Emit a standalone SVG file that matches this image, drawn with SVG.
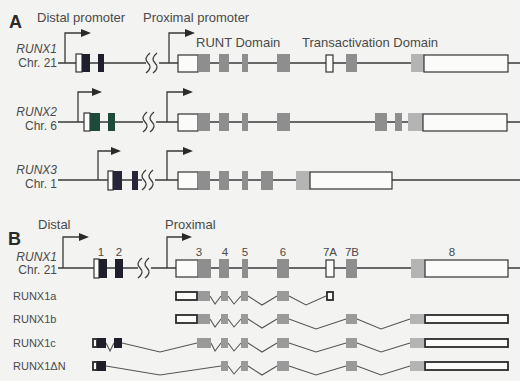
<svg xmlns="http://www.w3.org/2000/svg" width="520" height="381" viewBox="0 0 520 381">
<style>
.ln{stroke:#3a3a3a;stroke-width:1.3;fill:none}
.sp{stroke:#555;stroke-width:1.1;fill:none}
.w{fill:#fbfbfa;stroke:#333;stroke-width:1.2}
.wt{fill:#fbfbfa;stroke:#2a2a2a;stroke-width:1.8}
.g{fill:#8e8e8e}
.g2{fill:#9a9a9a}
.lg{fill:#b4b4b4}
.k{fill:#1f1f2b}
.gr{fill:#1d4a3b}
.nv{fill:#262638}
.t{font-family:"Liberation Sans",Arial,sans-serif;fill:#4a4a4a}
.h{font-size:13px}
.gn{font-size:12px;font-style:italic}
.ch{font-size:12px}
.pl{font-family:"Liberation Sans",Arial,sans-serif;font-weight:bold;font-size:18px;fill:#2a2a2a}
.tr{font-size:11px}
.ex{font-size:11.5px}
</style>
<defs>
<marker id="ah" viewBox="0 0 10 8" refX="1" refY="4" markerWidth="10" markerHeight="8" markerUnits="userSpaceOnUse" orient="auto">
<path d="M0,0 L10,4 L0,8 z" fill="#2a2a2a"/>
</marker>
<g id="brk">
<path d="M4,-10 C-1,-6 -1,-3 2,0 C5,3 5,6 0,10" class="ln"/>
<path d="M11,-10 C6,-6 6,-3 9,0 C12,3 12,6 7,10" class="ln"/>
</g>
</defs>
<rect width="520" height="381" fill="#f3f3f1"/>

<!-- Panel labels -->
<text class="pl" x="9" y="28">A</text>
<text class="pl" x="8" y="245">B</text>
<text class="t h" x="37" y="22">Distal promoter</text>
<text class="t h" x="143" y="22">Proximal promoter</text>
<text class="t h" x="196" y="47">RUNT Domain</text>
<text class="t h" x="302" y="47">Transactivation Domain</text>
<text class="t h" x="38" y="229">Distal</text>
<text class="t h" x="165" y="229">Proximal</text>

<!-- Connectors: gene lines, promoter arrows, splice lines -->
<g id="connectors">
<path class="ln" d="M58,63 H146 M159,63 H520"/>
<use href="#brk" x="146" y="63"/>
<path class="ln" d="M65,63 V33 H82" marker-end="url(#ah)"/>
<path class="ln" d="M169,63 V33 H186" marker-end="url(#ah)"/>

<path class="ln" d="M58,122 H143 M156,122 H520"/>
<use href="#brk" x="143" y="122"/>
<path class="ln" d="M78,122 V92 H93" marker-end="url(#ah)"/>
<path class="ln" d="M167,122 V92 H184" marker-end="url(#ah)"/>

<path class="ln" d="M58,180 H142 M155,180 H520"/>
<use href="#brk" x="142" y="180"/>
<path class="ln" d="M98,180 V151 H112" marker-end="url(#ah)"/>
<path class="ln" d="M167,180 V151 H184" marker-end="url(#ah)"/>

<path class="ln" d="M58,268 H138 M151,268 H520"/>
<use href="#brk" x="138" y="268"/>
<path class="ln" d="M63,268 V237 H80" marker-end="url(#ah)"/>
<path class="ln" d="M167,268 V237 H183" marker-end="url(#ah)"/>

<!-- splice lines -->
<path class="sp" d="M210,296 L215,304 L221,296 M228,296 L234,304 L241,296 M248,296 L262,305 L277,296 M289,296 L306,305 L326,296"/>
<path class="sp" d="M210,319 L215,327 L221,319 M228,319 L234,327 L241,319 M248,319 L262,328 L277,319 M289,319 L316,329 L346,319 M357,319 L381,329 L410,319"/>
<path class="sp" d="M106,343 L110,351 L114,343 M122,343 L160,352 L197,343 M211,343 L215,351 L221,343 M228,343 L234,351 L241,343 M248,343 L262,352 L277,343 M289,343 L316,352 L346,343 M357,343 L381,352 L410,343"/>
<path class="sp" d="M106,366 L160,375 L221,366 M228,366 L234,374 L241,366 M248,366 L262,375 L277,366 M289,366 L316,375 L346,366 M357,366 L381,375 L410,366"/>
</g>

<!-- Panel A -->
<g id="runx1-a">
<text class="t gn" x="57" y="53" text-anchor="end">RUNX1</text>
<text class="t ch" x="57" y="67" text-anchor="end">Chr. 21</text>
<rect class="w" x="76" y="54" width="6" height="18"/>
<rect class="k" x="82" y="54" width="8" height="18"/>
<rect class="k" x="98" y="54" width="6" height="18"/>
<rect class="w" x="178" y="55" width="20" height="17"/>
<rect class="g" x="198" y="54" width="12" height="18"/>
<rect class="g" x="219" y="54" width="10" height="18"/>
<rect class="g" x="242" y="54" width="6" height="18"/>
<rect class="g" x="277" y="54" width="13" height="18"/>
<rect class="w" x="326" y="55" width="7" height="17"/>
<rect class="g" x="346" y="54" width="11" height="18"/>
<rect class="lg" x="411" y="54" width="13" height="18"/>
<rect class="w" x="424" y="55" width="84" height="17"/>
</g>

<g id="runx2">
<text class="t gn" x="57" y="116" text-anchor="end">RUNX2</text>
<text class="t ch" x="57" y="130" text-anchor="end">Chr. 6</text>
<rect class="w" x="84" y="113" width="6" height="18"/>
<rect class="gr" x="90" y="113" width="10" height="18"/>
<rect class="gr" x="108" y="113" width="7" height="18"/>
<rect class="w" x="178" y="114" width="20" height="17"/>
<rect class="g" x="198" y="113" width="12" height="18"/>
<rect class="g" x="219" y="113" width="10" height="18"/>
<rect class="g" x="242" y="113" width="6" height="18"/>
<rect class="g" x="277" y="113" width="13" height="18"/>
<rect class="g" x="375" y="113" width="12" height="18"/>
<rect class="g" x="395" y="113" width="7" height="18"/>
<rect class="lg" x="408" y="113" width="15" height="18"/>
<rect class="w" x="423" y="114" width="84" height="17"/>
</g>

<g id="runx3">
<text class="t gn" x="57" y="174" text-anchor="end">RUNX3</text>
<text class="t ch" x="57" y="188" text-anchor="end">Chr. 1</text>
<rect class="w" x="108" y="171" width="5" height="19"/>
<rect class="nv" x="113" y="171" width="9" height="19"/>
<rect class="nv" x="132" y="171" width="6" height="19"/>
<rect class="w" x="178" y="172" width="20" height="17"/>
<rect class="g" x="198" y="171" width="12" height="19"/>
<rect class="g" x="219" y="171" width="10" height="19"/>
<rect class="g" x="242" y="171" width="6" height="19"/>
<rect class="g" x="261" y="171" width="12" height="19"/>
<rect class="lg" x="296" y="171" width="14" height="19"/>
<rect class="w" x="310" y="172" width="82" height="17"/>
</g>

<!-- Panel B -->
<g id="runx1-b">
<text class="t gn" x="57" y="261" text-anchor="end">RUNX1</text>
<text class="t ch" x="57" y="274" text-anchor="end">Chr. 21</text>
<rect class="w" x="94" y="259" width="5" height="19"/>
<rect class="k" x="99" y="259" width="8" height="19"/>
<rect class="k" x="115" y="259" width="8" height="19"/>
<rect class="w" x="176" y="260" width="22" height="17"/>
<rect class="g" x="198" y="259" width="13" height="19"/>
<rect class="g" x="219" y="259" width="10" height="19"/>
<rect class="g" x="242" y="259" width="6" height="19"/>
<rect class="g" x="277" y="259" width="12" height="19"/>
<rect class="w" x="326" y="260" width="8" height="17"/>
<rect class="g" x="346" y="259" width="11" height="19"/>
<rect class="lg" x="411" y="259" width="14" height="19"/>
<rect class="w" x="425" y="260" width="83" height="17"/>
<g class="t ex" text-anchor="middle">
<text x="101" y="256">1</text>
<text x="119" y="256">2</text>
<text x="199" y="256">3</text>
<text x="225" y="256">4</text>
<text x="245" y="256">5</text>
<text x="283" y="256">6</text>
<text x="330" y="256">7A</text>
<text x="352" y="256">7B</text>
<text x="452" y="256">8</text>
</g>
</g>

<g id="runx1a">
<text class="t tr" x="13" y="300">RUNX1a</text>
<rect class="wt" x="176" y="292" width="21" height="8"/>
<rect class="g2" x="198" y="291" width="12" height="10"/>
<rect class="g2" x="221" y="291" width="7" height="10"/>
<rect class="g2" x="241" y="291" width="7" height="10"/>
<rect class="g2" x="277" y="291" width="12" height="10"/>
<rect class="wt" x="327" y="292" width="6" height="8"/>
</g>

<g id="runx1b">
<text class="t tr" x="13" y="323">RUNX1b</text>
<rect class="wt" x="176" y="315" width="21" height="8"/>
<rect class="g2" x="198" y="314" width="12" height="10"/>
<rect class="g2" x="221" y="314" width="7" height="10"/>
<rect class="g2" x="241" y="314" width="7" height="10"/>
<rect class="g2" x="277" y="314" width="12" height="10"/>
<rect class="g2" x="346" y="314" width="11" height="10"/>
<rect class="lg" x="410" y="314" width="14" height="10"/>
<rect class="wt" x="425" y="315" width="83" height="8"/>
</g>

<g id="runx1c">
<text class="t tr" x="13" y="347">RUNX1c</text>
<rect class="wt" x="93" y="339" width="4" height="8"/>
<rect class="k" x="97" y="338" width="9" height="10"/>
<rect class="k" x="114" y="338" width="8" height="10"/>
<rect class="g2" x="197" y="338" width="14" height="10"/>
<rect class="g2" x="221" y="338" width="7" height="10"/>
<rect class="g2" x="241" y="338" width="7" height="10"/>
<rect class="g2" x="277" y="338" width="12" height="10"/>
<rect class="g2" x="346" y="338" width="11" height="10"/>
<rect class="lg" x="410" y="338" width="14" height="10"/>
<rect class="wt" x="425" y="339" width="83" height="8"/>
</g>

<g id="runx1dn">
<text class="t tr" x="13" y="370">RUNX1ΔN</text>
<rect class="wt" x="93" y="362" width="4" height="8"/>
<rect class="k" x="97" y="361" width="9" height="10"/>
<rect class="g2" x="221" y="361" width="7" height="10"/>
<rect class="g2" x="241" y="361" width="7" height="10"/>
<rect class="g2" x="277" y="361" width="12" height="10"/>
<rect class="g2" x="346" y="361" width="11" height="10"/>
<rect class="lg" x="410" y="361" width="14" height="10"/>
<rect class="wt" x="425" y="362" width="83" height="8"/>
</g>
</svg>
